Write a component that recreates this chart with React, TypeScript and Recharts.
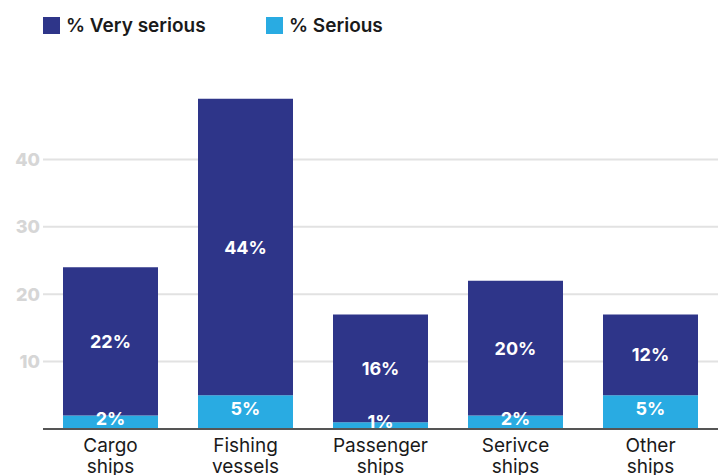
import { BarChart, Bar, XAxis, YAxis, CartesianGrid, Legend, LabelList } from "recharts";

const categories = ["Cargo ships", "Fishing vessels", "Passenger ships", "Serivce ships", "Other ships"];
const verySerious = [22, 44, 16, 20, 12];
const serious = [2, 5, 1, 2, 5];
const yTicks = [10, 20, 30, 40];

const DARK = "#2e3589";
const LIGHT = "#29abe2";
const FONT = "Inter, 'Open Sans', sans-serif";

const data = categories.map((name, i) => ({
  name,
  verySerious: verySerious[i],
  serious: serious[i],
}));

function CategoryTick(props: any) {
  const { x, y, payload } = props;
  const words = String(payload.value).split(" ");
  return (
    <text x={x} y={y} textAnchor="middle" fill="#1a1a1a" fontSize={19} fontFamily={FONT}>
      {words.map((w, i) => (
        <tspan key={i} x={x} dy={i === 0 ? 15 : 21}>
          {w}
        </tspan>
      ))}
    </text>
  );
}

function makeLabel(shift: number) {
  return (props: any) => {
    const { x, y, width, height, value } = props;
    return (
      <text
        x={x + width / 2}
        y={y + height / 2 + shift}
        textAnchor="middle"
        dominantBaseline="central"
        fill="#fff"
        fontSize={18}
        fontWeight={700}
        fontFamily={FONT}
      >
        {value}%
      </text>
    );
  };
}

function LegendContent() {
  const items = [
    { label: "% Very serious", color: DARK, w: 223 },
    { label: "% Serious", color: LIGHT, w: 140 },
  ];
  return (
    <div style={{ display: "flex", fontFamily: FONT }}>
      {items.map((it) => (
        <div key={it.label} style={{ display: "flex", alignItems: "center", width: it.w }}>
          <span style={{ width: 17, height: 17, background: it.color, display: "inline-block", marginRight: 6 }} />
          <span style={{ fontSize: 19, fontWeight: 600, color: "#1a1a1a" }}>{it.label}</span>
        </div>
      ))}
    </div>
  );
}

export default function App() {
  return (
    <div style={{ position: "absolute", left: 0, top: 0, width: 724, height: 475, overflow: "hidden", background: "#fff" }}>
      <BarChart width={724} height={475} data={data} margin={{ top: 92, right: 6, bottom: 0, left: 0 }} barSize={95}>
        <CartesianGrid vertical={false} stroke="#e2e2e2" strokeWidth={2} horizontalValues={yTicks} />
        <XAxis
          dataKey="name"
          height={46}
          tickLine={false}
          axisLine={{ stroke: "#555", strokeWidth: 2 }}
          tick={<CategoryTick />}
          interval={0}
        />
        <YAxis
          width={43}
          domain={[0, 50]}
          ticks={yTicks}
          axisLine={false}
          tickLine={false}
          tickSize={0}
          tickMargin={3}
          tick={{ fill: "#d6d6d6", fontSize: 18, fontWeight: 800, fontFamily: FONT }}
        />
        <Legend
          verticalAlign="middle"
          layout="horizontal"
          content={<LegendContent />}
          wrapperStyle={{ top: 14, left: 43, width: 400 }}
        />
        <Bar dataKey="serious" stackId="a" fill={LIGHT} isAnimationActive={false}>
          <LabelList dataKey="serious" content={makeLabel(-4)} />
        </Bar>
        <Bar dataKey="verySerious" stackId="a" fill={DARK} isAnimationActive={false}>
          <LabelList dataKey="verySerious" content={makeLabel(0)} />
        </Bar>
      </BarChart>
    </div>
  );
}
